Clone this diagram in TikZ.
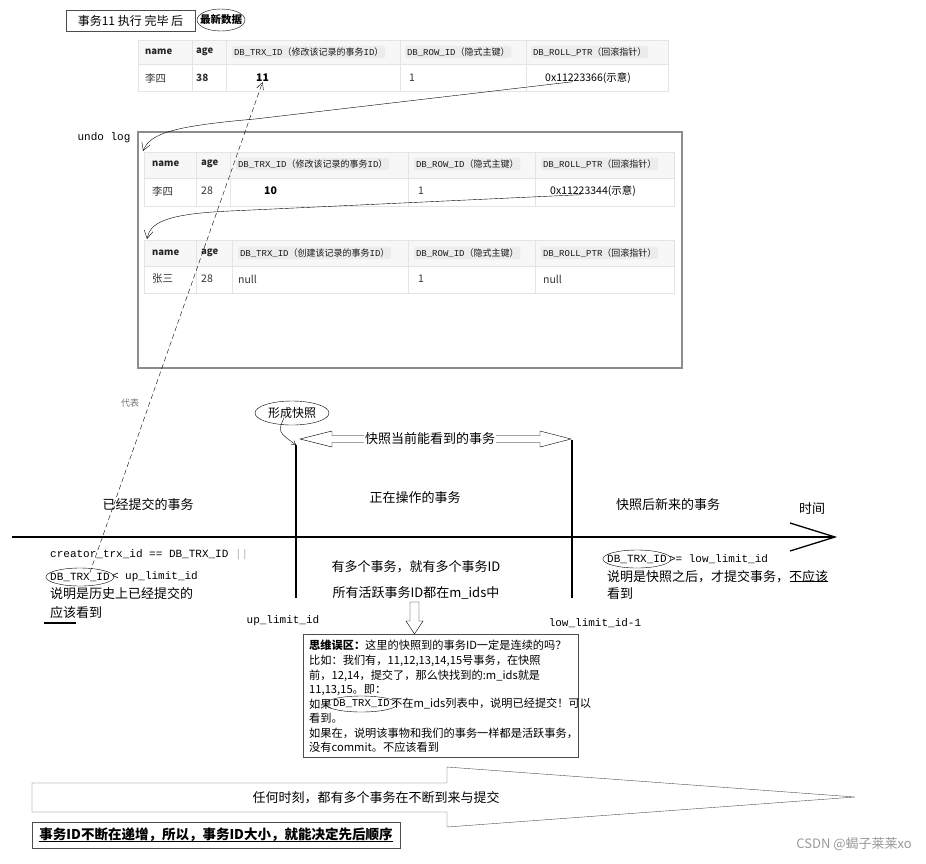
\documentclass[tikz,border=0pt]{standalone}
\usepackage{fontspec}
\setmainfont{Noto Sans CJK SC}
\setmonofont{Liberation Mono}
\usetikzlibrary{arrows.meta,positioning,calc}

\definecolor{gridline}{HTML}{E4E4E4}
\definecolor{headbg}{HTML}{F7F7F7}
\definecolor{tagbg}{HTML}{ECECEC}
\definecolor{framegray}{HTML}{8C8C8C}
\newcommand{\fsz}[1]{\fontsize{#1}{#1}\selectfont}

\tikzset{
  lbl/.style={inner sep=0pt, font=\fsz{13}},
  mono/.style={inner sep=0pt, font=\ttfamily\fsz{11}},
  hdrtag/.style={fill=tagbg, rounded corners=1.5pt, inner sep=1.8pt, anchor=west, font=\fsz{9}, text=black!90},
  hcell/.style={inner sep=0pt, anchor=west, font=\bfseries\fsz{9.5}, text=black!85},
  vcell/.style={inner sep=0pt, anchor=west, font=\fsz{10.5}, text=black!80},
  tline/.style={draw=gridline, line width=0.8pt},
  note/.style={inner sep=0pt, anchor=west, font=\fsz{11.2}},
  barb/.style={-{Straight Barb[length=8pt,width=9pt]}},
}

\begin{document}
\begin{tikzpicture}[x=1pt,y=-1pt]
  \useasboundingbox (0,0) rectangle (926,863);

  % ---------------- Title ----------------
  \node[draw=black!70, font=\fsz{12}, minimum width=129, minimum height=21, inner sep=0pt] (title) at (130.5,20.5) {事务11 执行 完毕 后};
  \node[font=\bfseries\fsz{10.5}, inner sep=0pt] (newest) at (221,20) {最新数据};
  \draw (newest.center) ellipse [x radius=24, y radius=11];

  % ---------------- Newest record ----------------
  \fill[headbg] (138,40) rectangle (668,64);
  \draw[tline] (138,40) rectangle (668,91) (138,64) -- (668,64);
  \foreach \x in {192,226,400,526} \draw[tline] (\x,40) -- (\x,91);
  \node[hcell] (A1n) at (145,52) {name};
  \node[hcell] (A1a) at (196,52) {age};
  \node[hdrtag] (A1t) at (232,52) {\texttt{DB\_TRX\_ID}（修改该记录的事务\texttt{ID}）};
  \node[hdrtag] (A1r) at (405,52) {\texttt{DB\_ROW\_ID}（隐式主键）};
  \node[hdrtag] (A1p) at (531,52) {\texttt{DB\_ROLL\_PTR}（回滚指针）};
  \node[vcell] (A2n) at (145,78) {李四};
  \node[vcell, font=\bfseries\fsz{10}] (A2a) at (196,78) {38};
  \node[vcell, font=\bfseries\fsz{10.5}, text=black] (A2t) at (256,78) {11};
  \node[vcell] (A2r) at (409,78) {1};
  \node[vcell, text=black] (A2p) at (545,78) {0x11223366(示意)};

  % ---------------- Undo log ----------------
  \node[font=\ttfamily\fsz{11}, inner sep=0pt] (undo) at (104,138) {undo log};
  \draw[framegray, line width=1.2pt] (138,132) rectangle (682,368);

  \fill[headbg] (144,152) rectangle (674,178);
  \draw[tline] (144,152) rectangle (674,206) (144,178) -- (674,178);
  \foreach \x in {196,230,408,535} \draw[tline] (\x,152) -- (\x,206);
  \node[hcell] (B1n) at (152,164) {name};
  \node[hcell] (B1a) at (201,164) {age};
  \node[hdrtag] (B1t) at (236,164) {\texttt{DB\_TRX\_ID}（修改该记录的事务\texttt{ID}）};
  \node[hdrtag] (B1r) at (414,164) {\texttt{DB\_ROW\_ID}（隐式主键）};
  \node[hdrtag] (B1p) at (541,164) {\texttt{DB\_ROLL\_PTR}（回滚指针）};
  \node[vcell] (B2n) at (152,191) {李四};
  \node[vcell] (B2a) at (201,191) {28};
  \node[vcell, font=\bfseries\fsz{10.5}, text=black] (B2t) at (264,191) {10};
  \node[vcell] (B2r) at (418,191) {1};
  \node[vcell, text=black] (B2p) at (550,191) {0x11223344(示意)};

  \fill[headbg] (144,240) rectangle (674,266);
  \draw[tline] (144,240) rectangle (674,293) (144,266) -- (674,266);
  \foreach \x in {196,232,408,535} \draw[tline] (\x,240) -- (\x,293);
  \node[hcell] (C1n) at (152,253) {name};
  \node[hcell] (C1a) at (201,253) {age};
  \node[hdrtag] (C1t) at (238,253) {\texttt{DB\_TRX\_ID}（创建该记录的事务\texttt{ID}）};
  \node[hdrtag] (C1r) at (414,253) {\texttt{DB\_ROW\_ID}（隐式主键）};
  \node[hdrtag] (C1p) at (541,253) {\texttt{DB\_ROLL\_PTR}（回滚指针）};
  \node[vcell] (C2n) at (152,279) {张三};
  \node[vcell] (C2a) at (201,279) {28};
  \node[vcell] (C2t) at (238,279) {null};
  \node[vcell] (C2r) at (418,279) {1};
  \node[vcell] (C2p) at (543,279) {null};

  % roll pointers
  \coordinate (B0) at (143,151);
  \coordinate (C0) at (147,239);
  \draw[barb] ([xshift=-15pt,yshift=2pt]A2p.south) -- (255,119) .. controls (175,126) and (150,133) .. (B0);
  \draw[barb] ([xshift=-12pt,yshift=2pt]B2p.south) -- (230,211) .. controls (162,214) and (150,224) .. (C0);

  % ---------------- Time line ----------------
  \coordinate (upTop) at (296,445);
  \coordinate (upBot) at (296,598);
  \coordinate (lowTop) at (572,440);
  \coordinate (lowBot) at (572,598);
  \draw[line width=1.6pt] (upTop) -- (upBot);
  \draw[line width=1.1pt] (lowTop) -- (lowBot);

  \node[font=\fsz{12}, inner sep=0pt] (snap) at (292,413) {形成快照};
  \draw (snap.center) ellipse [x radius=37, y radius=12];
  \draw[-{Straight Barb[length=4pt,width=5pt]}] ([xshift=-8pt,yshift=1pt]snap.south) .. controls +(-6,14) .. (upTop);

  \draw (300,439) -- (332,431) -- (332,435.5) -- (540,435.5) -- (540,431) -- (571,439)
        -- (540,447) -- (540,442.5) -- (332,442.5) -- (332,447) -- cycle;
  \node[lbl, fill=white, inner xsep=1pt] (view) at (430,439) {快照当前能看到的事务};

  \node[lbl] (past) at (148,505) {已经提交的事务};
  \node[lbl] (active) at (415,498) {正在操作的事务};
  \node[lbl] (future) at (668,505) {快照后新来的事务};
  \node[lbl] (time) at (812,509) {时间};

  \coordinate (tBeg) at (12,537);
  \coordinate (tEnd) at (835,537);
  \draw[line width=1.3pt] (tBeg) -- (tEnd);
  \draw[line width=1.3pt] ($(tEnd)+(-45,-14)$) -- (tEnd) -- ($(tEnd)+(-45,14)$);

  % ---------------- Left: committed ----------------
  \node[mono, anchor=west] (L1) at (50,555) {creator\_trx\_id == DB\_TRX\_ID \textcolor{black!30}{||}};
  \node[mono, anchor=west] (E1) at (50,577) {DB\_TRX\_ID};
  \draw (E1.center) ellipse [x radius=34, y radius=9];
  \node[mono, anchor=west, right=2pt of E1] (L2) {< up\_limit\_id};
  \node[lbl, anchor=west] (L3) at (50,594) {说明是历史上已经提交的};
  \node[lbl, anchor=west] (L4) at (50,613) {应该看到};
  \draw[line width=1.2pt] (44,623) -- (76,623);
  \node[mono] (upId) at (283,621) {up\_limit\_id};

  \draw[dashed, dash pattern=on 5pt off 3pt, -{Straight Barb[length=7pt,width=7pt]}] ([xshift=10pt]E1.north) -- (A2t.south);
  \node[font=\fsz{9}, text=black!55, inner sep=0pt] (stands) at (130,403) {代表};

  % ---------------- Middle: active ----------------
  \node[lbl] (M1) at (416,567) {有多个事务，就有多个事务ID};
  \node[lbl] (M2) at (416,593) {所有活跃事务ID都在m\_ids中};
  \draw (410,602) -- (419,602) -- (419,621) -- (423,621) -- (414.5,634) -- (406,621) -- (410,621) -- cycle;

  \node[draw=black!70, line width=0.9pt, minimum width=275, minimum height=123, anchor=north west, inner sep=0pt] (mbox) at (303,634) {};
  \node[note] (N1) at (309,645) {\textbf{思维误区：}这里的快照到的事务ID一定是连续的吗？};
  \node[note] (N2) at (309,661) {比如：我们有，11,12,13,14,15号事务，在快照};
  \node[note] (N3) at (309,676) {前，12,14，提交了，那么快找到的:m\_ids就是};
  \node[note] (N4) at (309,690) {11,13,15。即：};
  \node[note] (N5) at (309,704) {如果};
  \node[note, font=\ttfamily\fsz{10.5}, right=1pt of N5] (E3) {DB\_TRX\_ID};
  \draw (E3.center) ellipse [x radius=36, y radius=8];
  \node[note, right=1pt of E3] (N5b) {不在m\_ids列表中，说明已经提交！可以};
  \node[note] (N6) at (309,718) {看到。};
  \node[note] (N7) at (309,733) {如果在，说明该事物和我们的事务一样都是活跃事务，};
  \node[note] (N8) at (309,747) {没有commit。不应该看到};

  % ---------------- Right: after snapshot ----------------
  \node[mono, anchor=west] (E2) at (607,559) {DB\_TRX\_ID};
  \draw (E2.center) ellipse [x radius=34, y radius=9];
  \node[mono, anchor=west, right=2pt of E2] (R1) {>= low\_limit\_id};
  \node[lbl, anchor=west] (R2) at (607,577) {说明是快照之后，才提交事务，不应该};
  \node[lbl, anchor=west] (R3) at (607,594) {看到};
  \draw[line width=1.2pt] ([xshift=-38pt,yshift=2pt]R2.south east) -- ([yshift=2pt]R2.south east);
  \node[mono] (lowId) at (595,623) {low\_limit\_id-1};

  % ---------------- Bottom ----------------
  \draw[black!70] (32,783) -- (447,783) -- (447,767) -- (855,797) -- (447,827) -- (447,812) -- (32,812) -- cycle;
  \node[lbl] (always) at (376,798) {任何时刻，都有多个事务在不断到来与提交};

  \draw[black!70] (32,822) rectangle (400,848);
  \node[font=\bfseries\fsz{13.5}, inner sep=0pt] (order) at (216,835) {事务ID不断在递增，所以，事务ID大小，就能决定先后顺序};
  \draw ([yshift=1pt]order.south west) -- ([yshift=1pt]order.south east);

  \node[font=\fsz{13}, text=black!40, inner sep=0pt, anchor=east] (mark) at (912,844) {CSDN @蝎子莱莱xo};
\end{tikzpicture}
\end{document}
